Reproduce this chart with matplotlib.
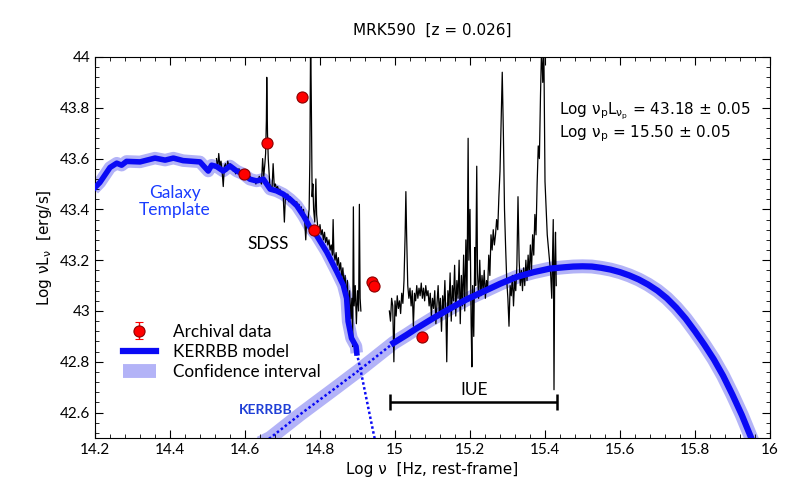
import numpy as np
import matplotlib
matplotlib.use("Agg")
from matplotlib import pyplot as plt
from matplotlib.ticker import MultipleLocator, FuncFormatter

plt.rcParams.update({
    "font.family": ["Lato", "DejaVu Sans"],
    "mathtext.fontset": "dejavusans",
    "xtick.direction": "in",
    "ytick.direction": "in",
    "xtick.top": True,
    "ytick.right": True,
    "xtick.minor.visible": True,
    "ytick.minor.visible": True,
    "xtick.major.size": 6,
    "ytick.major.size": 6,
    "xtick.minor.size": 3,
    "ytick.minor.size": 3,
})

# galaxy template (host galaxy)
gal_x = [14.196, 14.213, 14.24, 14.258, 14.271, 14.284, 14.32, 14.36, 14.387, 14.409,
         14.435, 14.48, 14.502, 14.511, 14.524, 14.542, 14.56, 14.578, 14.596, 14.613,
         14.631, 14.649, 14.667, 14.684, 14.702, 14.72, 14.738, 14.756, 14.773, 14.791,
         14.818, 14.845, 14.862, 14.871, 14.875, 14.884, 14.896, 14.898]
gal_y = [43.48, 43.506, 43.565, 43.582, 43.574, 43.589, 43.587, 43.602, 43.594, 43.602,
         43.592, 43.587, 43.551, 43.574, 43.569, 43.551, 43.571, 43.551, 43.539, 43.519,
         43.512, 43.519, 43.48, 43.473, 43.46, 43.44, 43.415, 43.375, 43.33, 43.297,
         43.232, 43.154, 43.102, 43.05, 42.959, 42.893, 42.861, 42.835]
gal_ext_x = [14.898, 14.907, 14.925, 14.944, 14.95]
gal_ext_y = [42.835, 42.776, 42.646, 42.51, 42.47]

# KERRBB accretion disc model
kerr_x = [14.996, 15.03, 15.058, 15.1, 15.147, 15.19, 15.235, 15.28, 15.324, 15.37,
          15.413, 15.45, 15.475, 15.5, 15.525, 15.55, 15.575, 15.6, 15.625, 15.65,
          15.675, 15.7, 15.725, 15.75, 15.775, 15.8, 15.825, 15.85, 15.875, 15.9,
          15.925, 15.95, 15.97]
kerr_y = [42.874, 42.905, 42.932, 42.97, 43.01, 43.045, 43.076, 43.107, 43.134, 43.153,
          43.167, 43.172, 43.175, 43.176, 43.175, 43.17, 43.163, 43.153, 43.14, 43.124,
          43.104, 43.08, 43.05, 43.013, 42.97, 42.92, 42.867, 42.81, 42.745, 42.67,
          42.59, 42.5, 42.43]
kerr_ext_x = [14.64, 14.667, 14.747, 14.836, 14.907, 14.996]
kerr_ext_y = [42.48, 42.50, 42.593, 42.691, 42.77, 42.874]

# SDSS spectrum
sdss_x = [14.524, 14.527, 14.530, 14.533, 14.536, 14.539, 14.542, 14.545, 14.548, 14.551,
          14.554, 14.557, 14.560, 14.563, 14.566, 14.569, 14.572, 14.575, 14.578, 14.581,
          14.584, 14.587, 14.590, 14.593, 14.596, 14.599, 14.602, 14.605, 14.608, 14.611,
          14.614, 14.617, 14.620, 14.623, 14.626, 14.629, 14.632, 14.635, 14.638, 14.641,
          14.644, 14.647, 14.650, 14.653, 14.655, 14.657, 14.658, 14.660, 14.662, 14.664,
          14.666, 14.669, 14.672, 14.675, 14.678, 14.681, 14.684, 14.687, 14.690, 14.693,
          14.696, 14.699, 14.702, 14.705, 14.708, 14.711, 14.714, 14.717, 14.720, 14.723,
          14.726, 14.729, 14.732, 14.735, 14.738, 14.741, 14.744, 14.747, 14.750, 14.753,
          14.756, 14.759, 14.762, 14.765, 14.768, 14.771, 14.773, 14.775, 14.777, 14.779,
          14.781, 14.783, 14.786, 14.789, 14.791, 14.794, 14.797, 14.800, 14.803, 14.806,
          14.809, 14.812, 14.815, 14.818, 14.821, 14.824, 14.827, 14.830, 14.833, 14.835,
          14.837, 14.840, 14.843, 14.846, 14.849, 14.852, 14.855, 14.858, 14.861, 14.864,
          14.867, 14.870, 14.873, 14.876, 14.879, 14.882, 14.885, 14.887, 14.889, 14.891,
          14.894, 14.897, 14.900, 14.903, 14.905, 14.907, 14.909]
sdss_y = [43.60, 43.56, 43.62, 43.57, 43.59, 43.55, 43.49, 43.57, 43.58, 43.55,
          43.59, 43.57, 43.58, 43.56, 43.57, 43.55, 43.56, 43.54, 43.56, 43.55,
          43.56, 43.54, 43.55, 43.53, 43.55, 43.54, 43.53, 43.52, 43.54, 43.52,
          43.53, 43.51, 43.52, 43.51, 43.52, 43.50, 43.52, 43.51, 43.53, 43.51,
          43.50, 43.60, 43.53, 43.58, 43.62, 43.75, 43.92, 43.70, 43.60, 43.55,
          43.50, 43.49, 43.48, 43.58, 43.49, 43.50, 43.48, 43.49, 43.47, 43.48,
          43.46, 43.47, 43.45, 43.35, 43.46, 43.44, 43.46, 43.43, 43.45, 43.43,
          43.44, 43.42, 43.43, 43.41, 43.43, 43.40, 43.42, 43.39, 43.41, 43.38,
          43.40, 43.36, 43.28, 43.37, 43.36, 43.40, 43.60, 44.10, 43.80, 43.45,
          43.50, 43.40, 43.35, 43.52, 43.38, 43.33, 43.31, 43.34, 43.30, 43.32,
          43.28, 43.31, 43.27, 43.29, 43.26, 43.28, 43.24, 43.26, 43.22, 43.36,
          43.23, 43.20, 43.23, 43.18, 43.21, 43.16, 43.19, 43.13, 43.17, 43.10,
          43.14, 43.05, 43.12, 43.00, 43.08, 42.97, 43.05, 42.86, 43.41, 43.02,
          43.10, 42.95, 43.08, 43.00, 43.42, 43.05, 43.00]

# IUE spectrum
iue_x = [14.985, 14.988, 14.991, 14.994, 14.997, 15.000, 15.003, 15.006, 15.009, 15.012,
         15.015, 15.018, 15.021, 15.024, 15.027, 15.029, 15.031, 15.034, 15.037, 15.040,
         15.043, 15.046, 15.049, 15.052, 15.055, 15.058, 15.061, 15.064, 15.067, 15.070,
         15.073, 15.076, 15.079, 15.082, 15.085, 15.088, 15.091, 15.094, 15.097, 15.100,
         15.103, 15.106, 15.109, 15.112, 15.115, 15.118, 15.121, 15.124, 15.127, 15.130,
         15.133, 15.136, 15.138, 15.141, 15.144, 15.147, 15.150, 15.153, 15.156, 15.159,
         15.162, 15.165, 15.168, 15.171, 15.174, 15.177, 15.180, 15.183, 15.186, 15.189,
         15.192, 15.195, 15.197, 15.200, 15.203, 15.205, 15.207, 15.210, 15.213, 15.215,
         15.218, 15.220, 15.223, 15.226, 15.229, 15.232, 15.235, 15.238, 15.241, 15.244,
         15.247, 15.250, 15.253, 15.256, 15.259, 15.262, 15.265, 15.268, 15.271, 15.274,
         15.277, 15.280, 15.283, 15.286, 15.289, 15.292, 15.295, 15.298, 15.301, 15.304,
         15.307, 15.310, 15.313, 15.316, 15.319, 15.322, 15.325, 15.328, 15.331, 15.334,
         15.337, 15.340, 15.343, 15.346, 15.349, 15.352, 15.355, 15.358, 15.361, 15.364,
         15.367, 15.370, 15.373, 15.376, 15.379, 15.382, 15.385, 15.388, 15.391, 15.394,
         15.397, 15.400, 15.403, 15.406, 15.409, 15.412, 15.415, 15.418, 15.420, 15.422,
         15.424, 15.426, 15.428, 15.430]
iue_y = [43.00, 42.96, 43.05, 43.02, 42.80, 43.04, 42.98, 43.06, 43.01, 43.04,
         42.99, 43.07, 43.03, 43.12, 43.30, 43.47, 43.30, 43.10, 43.05, 43.09,
         43.02, 43.08, 42.94, 43.07, 43.04, 43.10, 43.05, 43.09, 43.06, 43.11,
         43.05, 43.09, 43.04, 43.10, 43.06, 43.08, 43.02, 43.07, 42.98, 43.05,
         43.01, 43.08, 42.95, 43.03, 43.10, 42.99, 43.05, 42.92, 43.06, 43.00,
         43.12, 42.97, 42.80, 43.08, 43.02, 43.15, 42.96, 43.10, 43.04, 43.18,
         42.98, 43.12, 43.05, 43.20, 42.95, 43.14, 43.02, 43.22, 43.00, 43.28,
         43.05, 43.68, 43.20, 43.40, 42.95, 42.78, 43.10, 42.90, 43.25, 43.10,
         43.57, 43.15, 43.05, 43.20, 43.06, 43.14, 43.08, 43.16, 43.05, 43.12,
         43.09, 43.22, 43.14, 43.30, 43.24, 43.32, 43.26, 43.30, 43.36, 43.32,
         43.45, 43.55, 43.75, 43.94, 43.70, 43.40, 43.25, 43.12, 43.05, 42.94,
         43.10, 43.06, 43.14, 43.02, 43.12, 43.08, 43.18, 43.45, 43.20, 43.10,
         43.16, 43.08, 43.17, 43.10, 43.20, 43.12, 43.22, 43.14, 43.26, 43.16,
         43.30, 43.22, 43.38, 43.30, 43.50, 43.65, 43.60, 43.85, 44.05, 43.90,
         44.02, 43.51, 43.40, 43.30, 43.25, 43.20, 43.15, 43.05, 43.20, 43.36,
         42.69, 43.20, 43.31, 43.10]

# archival photometry
phot_x = [14.596, 14.659, 14.753, 14.785, 14.939, 14.943, 15.072]
phot_y = [43.541, 43.66, 43.844, 43.318, 43.116, 43.099, 42.897]
phot_err = [0.005, 0.005, 0.005, 0.005, 0.005, 0.005, 0.005]

blue = "#0a0af5"
band = "#b3b3f7"

fig = plt.figure(figsize=(8, 5), dpi=100)
ax = fig.add_axes([0.11875, 0.124, 0.84375, 0.762])

ax.plot(gal_x, gal_y, color=band, lw=9, solid_capstyle="butt", zorder=1)
ax.plot(kerr_ext_x + kerr_x, kerr_ext_y + kerr_y, color=band, lw=10,
        solid_capstyle="butt", zorder=1, label="Confidence interval")

ax.plot(sdss_x, sdss_y, color="k", lw=0.9, zorder=2)
ax.plot(iue_x, iue_y, color="k", lw=0.9, zorder=2)

ax.plot(gal_x, gal_y, color=blue, lw=4, zorder=3)
ax.plot(gal_ext_x, gal_ext_y, color=blue, lw=1.8, ls=(0, (1, 1)), zorder=3)
ax.plot(kerr_ext_x, kerr_ext_y, color=blue, lw=1.8, ls=(0, (1, 1)), zorder=3)
ax.plot(kerr_x, kerr_y, color=blue, lw=4.5, zorder=3, label="KERRBB model")

ax.errorbar(phot_x, phot_y, yerr=phot_err, fmt="o", ms=8, mfc="#ff0000",
            mec="#8b0000", mew=0.8, ecolor="#ff0000", capsize=3, elinewidth=1,
            zorder=4, label="Archival data")

# IUE range bracket
ax.errorbar([15.21], [42.643], xerr=[[0.223], [0.223]], fmt="none", ecolor="k",
            elinewidth=1.8, capsize=6, capthick=1.8)

ax.text(14.413, 43.43, "Galaxy\nTemplate", color="#1a3cff", fontsize=12.5,
        ha="center", va="center", linespacing=1.05)
ax.text(14.661, 43.265, "SDSS", color="k", fontsize=12.5, ha="center", va="center")
ax.text(15.21, 42.69, "IUE", color="k", fontsize=12.5, ha="center", va="center")
ax.text(14.655, 42.612, "KERRBB", color="#1f3fd6", fontsize=10, fontweight="bold",
        ha="center", va="center")

ax.text(0.688, 0.857, r"Log ν$_\mathrm{p}$L$_{\mathrm{ν}_\mathrm{p}}$ = 43.18 ± 0.05",
        transform=ax.transAxes, fontsize=11, family="DejaVu Sans", va="center")
ax.text(0.688, 0.8, r"Log ν$_\mathrm{p}$ = 15.50 ± 0.05",
        transform=ax.transAxes, fontsize=11, family="DejaVu Sans", va="center")

handles, labels = ax.get_legend_handles_labels()
order = [labels.index("Archival data"), labels.index("KERRBB model"),
         labels.index("Confidence interval")]
ax.legend([handles[i] for i in order], [labels[i] for i in order],
          loc="upper left", bbox_to_anchor=(0.041, 0.30), frameon=False,
          fontsize=12.3, handlelength=1.95, handletextpad=1.0,
          labelspacing=0.25, borderaxespad=0, borderpad=0)

ax.set_xlim(14.2, 16)
ax.set_ylim(42.5, 44)
ax.xaxis.set_major_locator(MultipleLocator(0.2))
ax.xaxis.set_minor_locator(MultipleLocator(0.04))
ax.set_yticks([42.6, 42.8, 43, 43.2, 43.4, 43.6, 43.8, 44])
ax.yaxis.set_minor_locator(MultipleLocator(0.04))
fmt = FuncFormatter(lambda v, p: "%g" % round(v, 2))
ax.xaxis.set_major_formatter(fmt)
ax.yaxis.set_major_formatter(fmt)
ax.tick_params(labelsize=11)

ax.set_title("MRK590  [z = 0.026]", fontsize=11, family="DejaVu Sans", pad=16)
ax.set_xlabel("Log ν  [Hz, rest-frame]", fontsize=11, family="DejaVu Sans")
ax.set_ylabel(r"Log νL$_\mathrm{ν}$  [erg/s]", fontsize=11, family="DejaVu Sans")

fig.savefig("out.png", dpi=100)
